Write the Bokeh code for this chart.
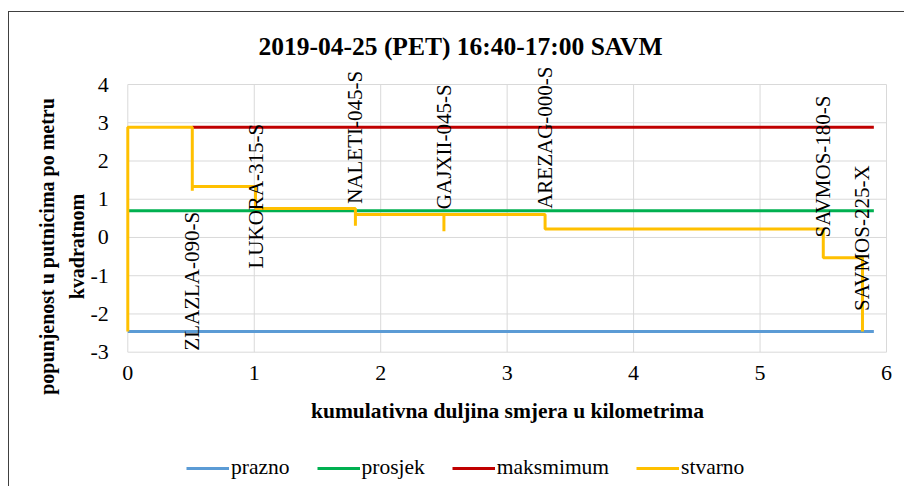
import math
from bokeh.plotting import figure
from bokeh.models import Label, Legend, LegendItem, FixedTicker, PrintfTickFormatter
from bokeh.embed import file_html
from bokeh.resources import INLINE

# ---- data ----
title_text = "2019-04-25 (PET) 16:40-17:00 SAVM"
x_title = "kumulativna duljina smjera u kilometrima"
y_title_1 = "popunjenost u putnicima po metru"
y_title_2 = "kvadratnom"
x_ticks = [0, 1, 2, 3, 4, 5, 6]
y_ticks = [-3, -2, -1, 0, 1, 2, 3, 4]

series_names = ["prazno", "prosjek", "maksmimum", "stvarno"]

prazno_x = [0, 5.9]
prazno_y = [-2.46, -2.46]
prosjek_x = [0, 5.9]
prosjek_y = [0.70, 0.70]
maks_x = [0.51, 5.9]
maks_y = [2.88, 2.88]
stvarno_x = [0, 0, 0.51, 0.51, 0.51, 1.01, 1.01, 1.80, 1.80, 1.80, 2.50, 2.50, 2.50,
             3.30, 3.30, 5.50, 5.50, 5.81, 5.81]
stvarno_y = [-2.46, 2.88, 2.88, 1.22, 1.33, 1.33, 0.76, 0.76, 0.31, 0.60, 0.60, 0.16, 0.60,
             0.60, 0.22, 0.22, -0.53, -0.53, -2.46]

stop_names = ["ZLAZLA-090-S", "LUKORA-315-S", "NALETI-045-S", "GAJXII-045-S",
              "AREZAG-000-S", "SAVMOS-180-S", "SAVMOS-225-X"]
stop_km = [0.51, 1.01, 1.80, 2.50, 3.30, 5.50, 5.81]
stop_label_y = [-2.96, -0.81, 0.88, 0.74, 0.75, 0.0, -1.92]

colors = ["#5B9BD5", "#00B050", "#C00000", "#FFC000"]
FONT = "Liberation Serif"
GRID = "#D9D9D9"

# ---- layout (pixels) ----
W, H = 896, 475
CANVAS_X0, CANVAS_Y0 = 9, 12          # page position of canvas
PX_X0, PX_PER_X = 127.3, 126.45       # page x of data x=0, px per km
PX_YM3, PX_PER_Y = 351.7, 38.24       # page y of data y=-3, px per unit


def dx(px):
    return (px - PX_X0) / PX_PER_X


def dy(py):
    return (PX_YM3 - py) / PX_PER_Y + y_ticks[0]


p = figure(width=W, height=H,
           x_range=(dx(CANVAS_X0), dx(CANVAS_X0 + W)),
           y_range=(dy(CANVAS_Y0 + H), dy(CANVAS_Y0)),
           output_backend="svg", toolbar_location=None, title=None,
           min_border=0, min_border_left=0, min_border_right=0,
           min_border_top=0, min_border_bottom=0)
p.styles = {"border-left": "1px solid #404040", "border-top": "1px solid #404040",
            "margin-left": "8px", "margin-top": "11px"}
p.background_fill_color = "white"
p.border_fill_color = "white"
p.outline_line_color = None
p.xgrid.visible = False
p.ygrid.visible = False

p.xaxis.fixed_location = y_ticks[0]
p.yaxis.fixed_location = x_ticks[0]
p.xaxis.ticker = FixedTicker(ticks=x_ticks)
p.yaxis.ticker = FixedTicker(ticks=y_ticks)
for ax in (p.xaxis[0], p.yaxis[0]):
    ax.axis_line_color = None
    ax.major_tick_line_color = None
    ax.minor_tick_line_color = None
    ax.major_label_text_font = FONT
    ax.major_label_text_font_size = "22px"
    ax.major_label_text_color = "black"
    ax.formatter = PrintfTickFormatter(format="%d")
p.xaxis.major_label_standoff = 8
p.yaxis.major_label_standoff = 13

# gridlines (plot area)
p.segment(x0=x_ticks, y0=[y_ticks[0]] * len(x_ticks), x1=x_ticks,
          y1=[y_ticks[-1]] * len(x_ticks), line_color=GRID, line_width=1)
p.segment(x0=[x_ticks[0]] * len(y_ticks), y0=y_ticks, x1=[x_ticks[-1]] * len(y_ticks),
          y1=y_ticks, line_color=GRID, line_width=1)

r1 = p.line(prazno_x, prazno_y, line_color=colors[0], line_width=3)
r2 = p.line(prosjek_x, prosjek_y, line_color=colors[1], line_width=3)
r3 = p.line(maks_x, maks_y, line_color=colors[2], line_width=3)
r4 = p.line(stvarno_x, stvarno_y, line_color=colors[3], line_width=3)

legend = Legend(items=[LegendItem(label=n, renderers=[r]) for n, r in
                       zip(series_names, [r1, r2, r3, r4])],
                orientation="horizontal", location=(186 - CANVAS_X0, 7),
                glyph_width=43, glyph_height=20, label_height=20,
                label_standoff=2, spacing=27, padding=0, margin=0,
                border_line_color=None, background_fill_alpha=0,
                label_text_font=FONT, label_text_font_size="21.5px",
                label_text_color="black")
p.add_layout(legend)

for name, xk, yk in zip(stop_names, stop_km, stop_label_y):
    p.add_layout(Label(x=xk, y=yk, text=name, angle=math.pi / 2,
                       text_align="left", text_baseline="middle",
                       text_font=FONT, text_font_size="21px",
                       text_color="black"))

p.add_layout(Label(x=dx(460), y=dy(46), text=title_text, text_align="center",
                   text_baseline="middle", text_font=FONT,
                   text_font_size="25.5px", text_font_style="bold", text_color="black"))
p.add_layout(Label(x=dx(507), y=dy(410), text=x_title, text_align="center",
                   text_baseline="middle", text_font=FONT,
                   text_font_size="21.5px", text_font_style="bold", text_color="black"))
p.add_layout(Label(x=dx(46), y=dy(246), text=y_title_1, angle=math.pi / 2,
                   text_align="center", text_baseline="middle", text_font=FONT,
                   text_font_size="20px", text_font_style="bold", text_color="black"))
p.add_layout(Label(x=dx(76), y=dy(246), text=y_title_2, angle=math.pi / 2,
                   text_align="center", text_baseline="middle", text_font=FONT,
                   text_font_size="20px", text_font_style="bold", text_color="black"))

open("out.html", "w").write(file_html(p, INLINE))
